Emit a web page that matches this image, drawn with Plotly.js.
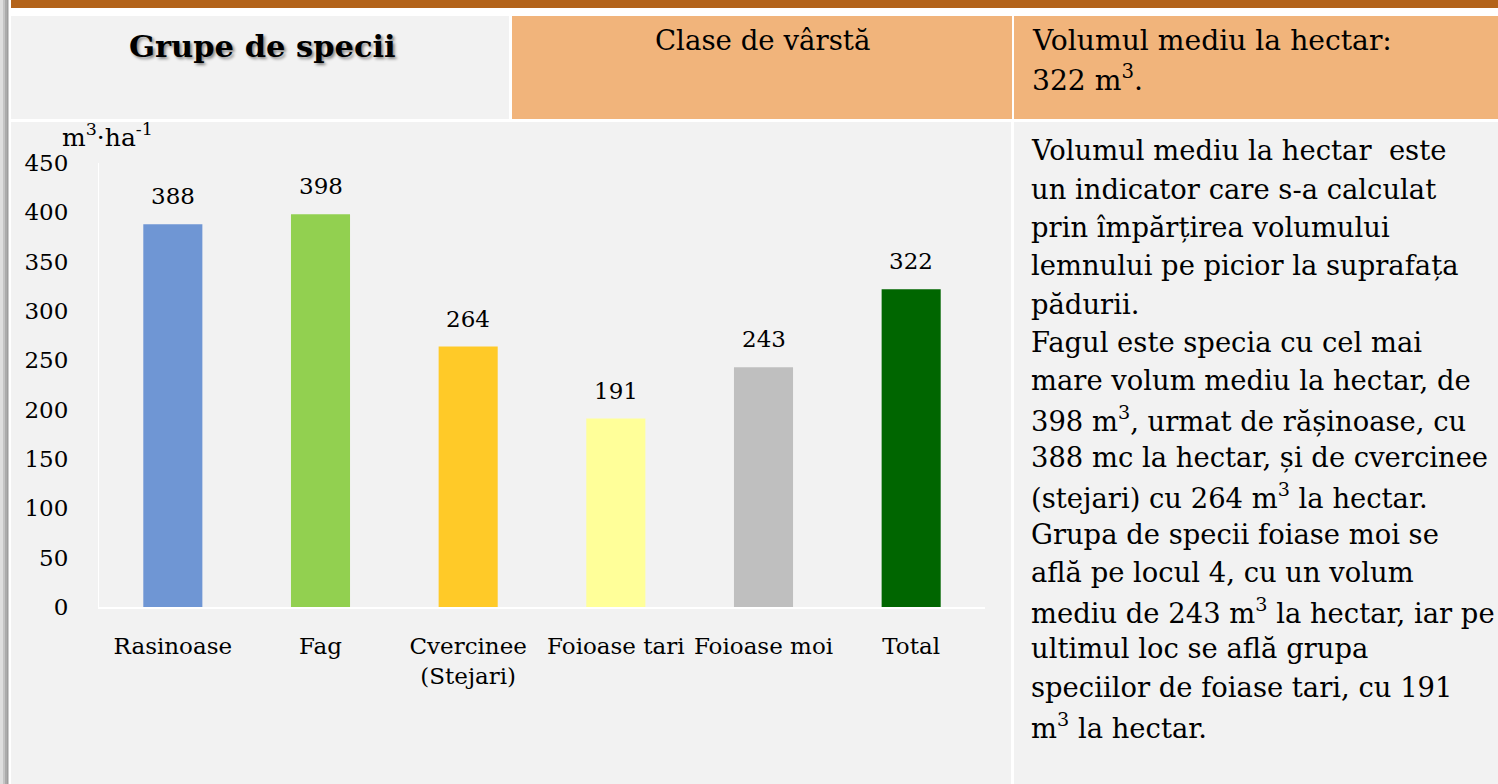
<!DOCTYPE html>
<html>
<head>
<meta charset="utf-8">
<script src="https://cdn.plot.ly/plotly-3.0.1.min.js"></script>
<style>
  html, body { margin: 0; padding: 0; background: #ffffff; }
  #chart { width: 1498px; height: 784px; }
</style>
</head>
<body>
<div id="chart"></div>
<script>
// ---- data ----
const categories = ['Rasinoase', 'Fag', 'Cvercinee<br>(Stejari)', 'Foioase tari', 'Foioase moi', 'Total'];
const volumes = [388, 398, 264, 191, 243, 322];
const barColors = ['#6F96D4', '#92D050', '#FFCA28', '#FFFF99', '#BFBFBF', '#006600'];
const yTickValues = [0, 50, 100, 150, 200, 250, 300, 350, 400, 450];
const yUnit = 'm<sup>3</sup>·ha<sup>-1</sup>';
const headerLeft = 'Grupe de specii';
const headerMiddle = 'Clase de vârstă';
const headerRightLines = ['Volumul mediu la hectar:', '322 m<sup>3</sup>.'];
const panelLines = [
  'Volumul mediu la hectar\u00a0 este',
  'un indicator care s-a calculat',
  'prin împărțirea volumului',
  'lemnului pe picior la suprafața',
  'pădurii.',
  'Fagul este specia cu cel mai',
  'mare volum mediu la hectar, de',
  '398 m<sup>3</sup>, urmat de rășinoase, cu',
  '388 mc la hectar, și de cvercinee',
  '(stejari) cu 264 m<sup>3</sup> la hectar.',
  'Grupa de specii foiase moi se',
  'află pe locul 4, cu un volum',
  'mediu de 243 m<sup>3</sup> la hectar, iar pe',
  'ultimul loc se află grupa',
  'speciilor de foiase tari, cu 191',
  'm<sup>3</sup> la hectar.'
];

// ---- layout helpers (pixel -> paper) ----
const W = 1498, H = 784;
const px = x => x / W;
const py = y => 1 - y / H;
const FONT = 'DejaVu Serif';

function rect(x0, y0, x1, y1, color) {
  return { type: 'rect', xref: 'paper', yref: 'paper', layer: 'below',
    x0: px(x0), x1: px(x1), y0: py(y1), y1: py(y0),
    line: { width: 0 }, fillcolor: color };
}

const shapes = [
  // left slide border gradient
  rect(0, 0, 3, H, '#dedede'),
  rect(3, 0, 5, H, '#c4c4c4'),
  rect(5, 0, 7, H, '#ababab'),
  rect(7, 0, 8, H, '#9d9d9d'),
  rect(8, 0, 9, H, '#cdcdcd'),
  // top brown bar
  rect(11, 0, W, 8, '#B3631A'),
  // header cells
  rect(11, 16, 509, 119, '#F2F2F2'),
  rect(512, 16, 1012, 119, '#F1B47B'),
  rect(1014, 16, W, 119, '#F1B47B'),
  // body cells
  rect(11, 122, 1011, H, '#F2F2F2'),
  rect(1014, 122, W, H, '#F2F2F2')
];

const annotations = [];
function textAt(x, y, text, opts) {
  annotations.push(Object.assign({
    xref: 'paper', yref: 'paper', x: px(x), y: py(y), text: text,
    showarrow: false, xanchor: 'left', yanchor: 'middle',
    font: { family: FONT, size: 27.4, color: '#000000' }
  }, opts || {}));
}

// headers
textAt(262, 46, headerLeft, { xanchor: 'center',
  font: { family: FONT, size: 30.5, color: '#000000', weight: 'bold', shadow: '2px 2px 3px rgba(0,0,0,0.45)' } });
textAt(762, 41, headerMiddle, { xanchor: 'center', font: { family: FONT, size: 27.6, color: '#000000' } });
textAt(1030, 41, headerRightLines[0], { font: { family: FONT, size: 28.2, color: '#000000' } });
textAt(1030, 79, headerRightLines[1], { font: { family: FONT, size: 28.2, color: '#000000' } });

// side panel text
panelLines.forEach((line, i) => textAt(1029, 151 + i * 38.3, line));

// y unit label
textAt(60, 136, yUnit, { font: { family: FONT, size: 25, color: '#000000' } });

// value labels above bars (placed through data coordinates)
categories.forEach((c, i) => {
  annotations.push({
    xref: 'x', yref: 'y', x: c, y: volumes[i], text: String(volumes[i]),
    showarrow: false, xanchor: 'center', yanchor: 'bottom', yshift: 13,
    font: { family: FONT, size: 23, color: '#000000' }
  });
});

const trace = {
  type: 'bar',
  x: categories,
  y: volumes,
  marker: { color: barColors, line: { width: 0 } },
  hoverinfo: 'skip'
};

const layout = {
  width: W, height: H,
  margin: { l: 0, r: 0, t: 0, b: 0, pad: 0 },
  paper_bgcolor: '#ffffff',
  plot_bgcolor: 'rgba(0,0,0,0)',
  font: { family: FONT, size: 23, color: '#000000' },
  showlegend: false,
  bargap: 0.6,
  hovermode: false,
  xaxis: {
    domain: [px(99), px(985)],
    type: 'category',
    showline: true, linecolor: '#ffffff', linewidth: 2,
    ticks: 'outside', ticklen: 17, tickcolor: 'rgba(0,0,0,0)',
    showgrid: false, zeroline: false, fixedrange: true,
    tickfont: { family: FONT, size: 23, color: '#000000' }
  },
  yaxis: {
    domain: [py(607), py(163)],
    range: [0, 450],
    tickvals: yTickValues,
    showline: true, linecolor: '#ffffff', linewidth: 1,
    ticks: 'outside', ticklen: 25, tickcolor: 'rgba(0,0,0,0)',
    showgrid: false, zeroline: false, fixedrange: true,
    tickfont: { family: FONT, size: 23, color: '#000000' }
  },
  shapes: shapes,
  annotations: annotations
};

Plotly.newPlot('chart', [trace], layout, { displayModeBar: false, staticPlot: true });
</script>
</body>
</html>
